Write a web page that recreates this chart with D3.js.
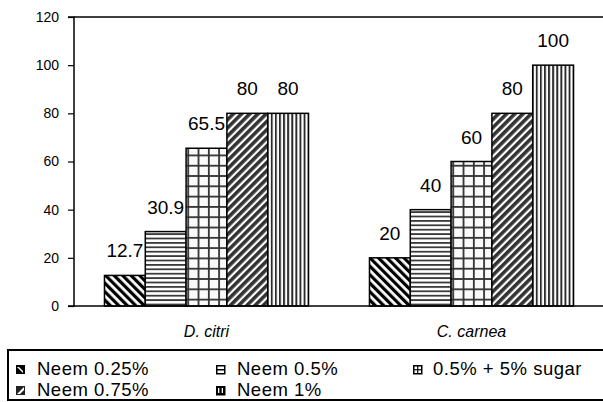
<!DOCTYPE html>
<html><head><meta charset="utf-8">
<script src="https://cdn.jsdelivr.net/npm/d3@7/dist/d3.min.js"></script>
<style>body{margin:0;background:#fff}svg{display:block}text{font-family:"Liberation Sans",Arial,sans-serif;fill:#000}</style>
</head><body><svg id="c" width="603" height="402"></svg>
<script>
const categories = ["D. citri", "C. carnea"];
const seriesNames = ["Neem 0.25%", "Neem 0.5%", "0.5% + 5% sugar", "Neem 0.75%", "Neem 1%"];
const valuesDcitri = [12.7, 30.9, 65.5, 80, 80];
const valuesCcarnea = [20, 40, 60, 80, 100];
const valueLabels = [["12.7","30.9","65.5","80","80"],["20","40","60","80","100"]];
const yTicks = [0, 20, 40, 60, 80, 100, 120];
const allValues = [valuesDcitri, valuesCcarnea];

const svg = d3.select("#c");
const defs = svg.append("defs");
const patIds = ["p1","p2","p3","p4","p5"];

// Patterns
(function(){
  let p = defs.append("pattern").attr("id","p1").attr("patternUnits","userSpaceOnUse")
    .attr("width",6).attr("height",6).attr("patternTransform","rotate(-45)");
  p.append("rect").attr("width",6).attr("height",6).attr("fill","#fff");
  p.append("rect").attr("width",3.2).attr("height",6).attr("fill","#000");

  p = defs.append("pattern").attr("id","p2").attr("patternUnits","userSpaceOnUse")
    .attr("width",8).attr("height",4.4);
  p.append("rect").attr("width",8).attr("height",4.4).attr("fill","#fff");
  p.append("rect").attr("y",0).attr("width",8).attr("height",1.8).attr("fill","#3a3a3a");

  p = defs.append("pattern").attr("id","p3").attr("patternUnits","userSpaceOnUse")
    .attr("width",10.3).attr("height",10.3).attr("x",0).attr("y",0);
  p.append("rect").attr("width",10.3).attr("height",10.3).attr("fill","#fafafa");
  p.append("rect").attr("width",10.3).attr("height",1.8).attr("fill","#333");
  p.append("rect").attr("width",1.8).attr("height",10.3).attr("fill","#333");

  p = defs.append("pattern").attr("id","p4").attr("patternUnits","userSpaceOnUse")
    .attr("width",5.8).attr("height",6).attr("patternTransform","rotate(45)");
  p.append("rect").attr("width",5.8).attr("height",6).attr("fill","#fff");
  p.append("rect").attr("width",3.6).attr("height",6).attr("fill","#333");

  p = defs.append("pattern").attr("id","p5").attr("patternUnits","userSpaceOnUse")
    .attr("width",4.1).attr("height",8);
  p.append("rect").attr("width",4.1).attr("height",8).attr("fill","#fff");
  p.append("rect").attr("width",1.9).attr("height",8).attr("fill","#2a2a2a");
})();

const mLeft = 74, mRight = 604, mTop = 17, mBottom = 306;
const x0 = d3.scaleBand().domain(categories).range([mLeft, mRight]).padding(0);
const x1 = d3.scaleBand().domain(seriesNames)
  .range([x0.bandwidth()*0.115, x0.bandwidth()*0.885]).padding(0);
const y = d3.scaleLinear().domain([0,120]).range([mBottom, mTop]);

// frame top line
svg.append("line").attr("x1",mLeft).attr("x2",603).attr("y1",mTop).attr("y2",mTop)
  .attr("stroke","#000").attr("stroke-width",1.5);

// bars
categories.forEach((cat, ci) => {
  const g = svg.append("g").attr("transform",`translate(${x0(cat)},0)`);
  seriesNames.forEach((s, si) => {
    const v = allValues[ci][si];
    g.append("rect").attr("x",x1(s)).attr("y",y(v))
      .attr("width",x1.bandwidth()).attr("height",y(0)-y(v))
      .attr("fill",`url(#${patIds[si]})`).attr("stroke","#000").attr("stroke-width",1.5);
    g.append("text").attr("x",x1(s)+x1.bandwidth()/2).attr("y",y(v)-18)
      .attr("text-anchor","middle").attr("font-size",19).text(valueLabels[ci][si]);
  });
});

// y axis
const yAxis = d3.axisLeft(y).tickValues(yTicks).tickSize(6).tickPadding(9).tickFormat(d3.format("d"));
const ya = svg.append("g").attr("transform",`translate(${mLeft},0)`).call(yAxis);
ya.select(".domain").attr("stroke","#000").attr("stroke-width",1.5).attr("d",`M-6,${mTop}H0V${mBottom}H-6`);
ya.selectAll(".tick line").attr("stroke","#000").attr("stroke-width",1.2);
ya.selectAll(".tick text").attr("font-size",14).attr("font-family","Liberation Sans, Arial, sans-serif").attr("fill","#000");

// x axis baseline
svg.append("line").attr("x1",mLeft).attr("x2",603).attr("y1",mBottom).attr("y2",mBottom)
  .attr("stroke","#000").attr("stroke-width",1.5);

// category labels
categories.forEach(cat => {
  svg.append("text").attr("x",x0(cat)+x0.bandwidth()/2).attr("y",337)
    .attr("text-anchor","middle").attr("font-size",16).attr("font-style","italic").text(cat);
});

// legend
svg.append("rect").attr("x",8).attr("y",350).attr("width",610).attr("height",50)
  .attr("fill","#fff").attr("stroke","#000").attr("stroke-width",2);
const legPos = [[16,375],[216,375],[413,375],[16,396],[216,396]];
seriesNames.forEach((s, si) => {
  const [lx, ly] = legPos[si];
  const sw = svg.append("g").attr("transform",`translate(${lx},${ly-10})`);
  if (si === 0) {
    sw.append("rect").attr("width",9).attr("height",9).attr("fill","#000");
    sw.append("path").attr("d","M1,2 L7,8 L7,6 L3,2 Z").attr("fill","#fff");
  } else if (si === 3) {
    sw.append("rect").attr("width",9).attr("height",9).attr("fill","#222");
    sw.append("path").attr("d","M1,8 L8,1 L8,4 L4,8 Z").attr("fill","#fff");
  } else {
    sw.append("rect").attr("x",0.75).attr("y",0.75).attr("width",8).attr("height",8)
      .attr("fill","#fff").attr("stroke","#000").attr("stroke-width",1.5);
    if (si === 1) sw.append("line").attr("x1",0).attr("x2",9).attr("y1",4.75).attr("y2",4.75).attr("stroke","#000").attr("stroke-width",1.5);
    if (si === 2) {
      sw.append("line").attr("x1",0).attr("x2",9).attr("y1",4.75).attr("y2",4.75).attr("stroke","#000").attr("stroke-width",1.2);
      sw.append("line").attr("y1",0).attr("y2",9).attr("x1",4.75).attr("x2",4.75).attr("stroke","#000").attr("stroke-width",1.2);
    }
    if (si === 4) {
      sw.append("rect").attr("width",9).attr("height",9).attr("fill","#000");
      sw.append("rect").attr("x",2).attr("y",2).attr("width",1.3).attr("height",5).attr("fill","#fff");
      sw.append("rect").attr("x",5.7).attr("y",2).attr("width",1.3).attr("height",5).attr("fill","#fff");
    }
  }
  svg.append("text").attr("x",lx + (si===2?20:21)).attr("y",ly).attr("font-size",18.5)
    .attr("letter-spacing",0.5).text(s);
});
</script></body></html>
